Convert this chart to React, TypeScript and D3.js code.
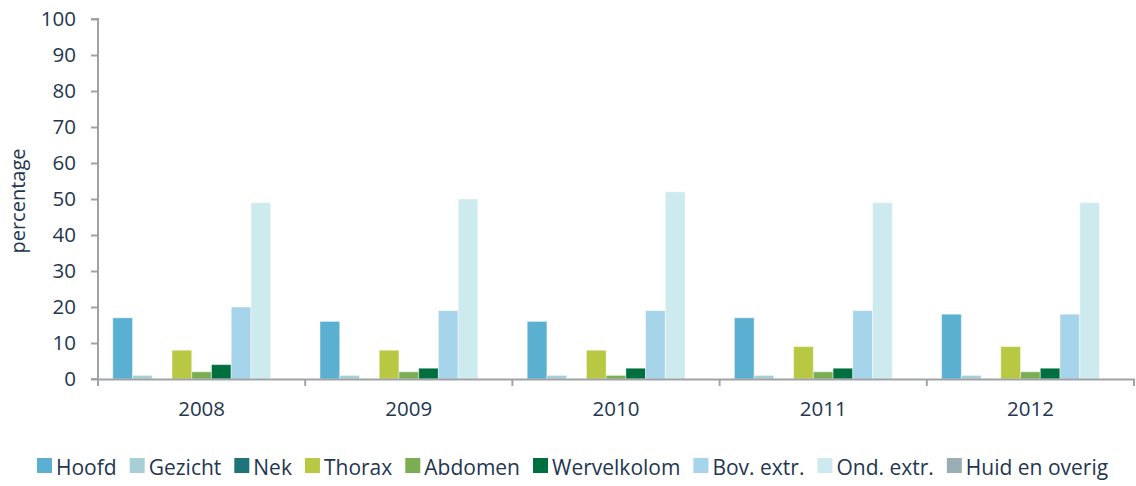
import React, { useEffect, useRef } from "react";
import * as d3 from "d3";

const years = ["2008", "2009", "2010", "2011", "2012"];
const seriesNames = [
  "Hoofd",
  "Gezicht",
  "Nek",
  "Thorax",
  "Abdomen",
  "Wervelkolom",
  "Bov. extr.",
  "Ond. extr.",
  "Huid en overig",
];
const seriesColors = [
  "#5BB0D1",
  "#A9CFD6",
  "#1E7479",
  "#B8C843",
  "#7BAE53",
  "#006F40",
  "#A6D4EA",
  "#CDEBEE",
  "#98AEB3",
];

const hoofd = [17, 16, 16, 17, 18];
const gezicht = [1, 1, 1, 1, 1];
const nek = [0, 0, 0, 0, 0];
const thorax = [8, 8, 8, 9, 9];
const abdomen = [2, 2, 1, 2, 2];
const wervelkolom = [4, 3, 3, 3, 3];
const bovExtr = [20, 19, 19, 19, 18];
const ondExtr = [49, 50, 52, 49, 49];
const huid = [0, 0, 0, 0, 0];

const seriesValues = [hoofd, gezicht, nek, thorax, abdomen, wervelkolom, bovExtr, ondExtr, huid];
const yTicks = [0, 10, 20, 30, 40, 50, 60, 70, 80, 90, 100];

const W = 1136,
  H = 486;
const FONT = "'Open Sans', Lato, sans-serif";
const TEXT = "#243650";
const AXIS = "#A0A3A6";

export default function App() {
  const ref = useRef<SVGSVGElement>(null);

  useEffect(() => {
    const svg = d3.select(ref.current);
    svg.selectAll("*").remove();

    const left = 98,
      right = 1134,
      top = 19,
      bottom = 379;

    const x0 = d3.scaleBand().domain(years).range([left, right]).padding(0);
    const x1 = d3
      .scaleBand()
      .domain(seriesNames)
      .range([0, x0.bandwidth()])
      .paddingInner(0)
      .paddingOuter(0.75);
    const y = d3.scaleLinear().domain([0, 100]).range([bottom, top]);

    // bars
    const groups = svg
      .append("g")
      .selectAll("g")
      .data(years)
      .join("g")
      .attr("transform", (d) => `translate(${x0(d)},0)`);

    groups
      .selectAll("rect")
      .data((d, i) => seriesNames.map((s, k) => ({ s, k, v: seriesValues[k][i] })))
      .join("rect")
      .filter((d) => d.v > 0)
      .attr("x", (d) => x1(d.s)!)
      .attr("width", x1.bandwidth())
      .attr("y", (d) => y(d.v))
      .attr("height", (d) => y(0) - y(d.v))
      .attr("fill", (d) => seriesColors[d.k])
      .attr("stroke", "#ffffff")
      .attr("stroke-opacity", 0.45)
      .attr("stroke-width", 1);

    // y axis
    const ya = svg.append("g").attr("transform", `translate(${left},0)`);
    ya.call(d3.axisLeft(y).tickValues(yTicks).tickSize(7).tickPadding(15));
    ya.select(".domain").attr("stroke", AXIS).attr("stroke-width", 2).attr("d", `M-7,${top}H0V${bottom}H-7`);
    ya.selectAll(".tick line").attr("stroke", AXIS).attr("stroke-width", 2);
    ya.selectAll(".tick text")
      .attr("fill", TEXT)
      .style("font-family", FONT)
      .style("font-size", "20.5px");

    // x axis
    const xa = svg.append("g").attr("transform", `translate(0,${bottom})`);
    xa.call(d3.axisBottom(x0).tickSize(0).tickPadding(22));
    xa.select(".domain").attr("stroke", AXIS).attr("stroke-width", 2);
    xa.selectAll(".tick text")
      .attr("fill", TEXT)
      .style("font-family", FONT)
      .style("font-size", "20.5px");
    const bounds = years.map((d) => x0(d)!).concat([right]);
    xa.selectAll("line.sep")
      .data(bounds)
      .join("line")
      .attr("class", "sep")
      .attr("x1", (d) => d)
      .attr("x2", (d) => d)
      .attr("y1", 0)
      .attr("y2", 7)
      .attr("stroke", AXIS)
      .attr("stroke-width", 2);

    // y label
    svg
      .append("text")
      .attr("transform", `translate(25,201) rotate(-90)`)
      .attr("text-anchor", "middle")
      .attr("fill", TEXT)
      .style("font-family", FONT)
      .style("font-size", "20px")
      .text("percentage");

    // legend
    const lg = svg.append("g").attr("transform", `translate(37,467)`);
    let cx = 0;
    seriesNames.forEach((s, k) => {
      lg.append("rect")
        .attr("x", cx)
        .attr("y", -9)
        .attr("width", 15)
        .attr("height", 15)
        .attr("fill", seriesColors[k]);
      const t = lg
        .append("text")
        .attr("x", cx + 19)
        .attr("y", 7.5)
        .attr("fill", TEXT)
        .style("font-family", FONT)
        .style("font-size", "21px")
        .text(s);
      const w = (t.node() as SVGTextElement).getComputedTextLength();
      cx += 19 + w + 13;
    });
  }, []);

  return (
    <svg
      ref={ref}
      width={W}
      height={H}
      style={{ position: "absolute", left: 0, top: 0, background: "#fff" }}
    />
  );
}
